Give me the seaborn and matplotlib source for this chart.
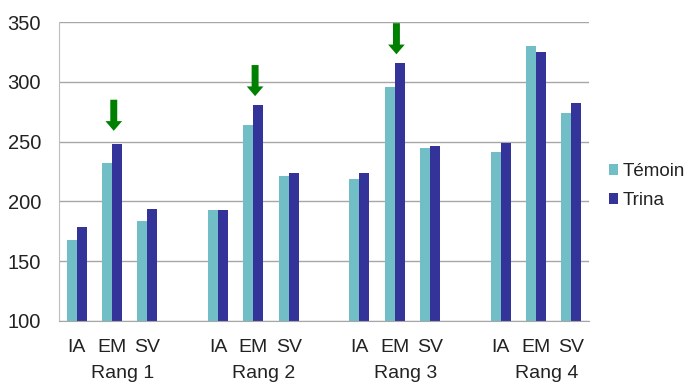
import matplotlib
matplotlib.use("Agg")
import matplotlib.pyplot as plt
import seaborn as sns
import pandas as pd
import numpy as np

# ---- data ----
ranks = ["Rang 1", "Rang 2", "Rang 3", "Rang 4"]
stades = ["IA", "EM", "SV"]
series = ["Témoin", "Trina"]
temoin = [168, 232, 184, 193, 264, 221, 219, 296, 245, 241, 330, 274]
trina = [179, 248, 194, 193, 281, 224, 224, 316, 246, 249, 325, 282]
# green arrows above EM bars (rank index, top value, tip value)
arrow_ranks = [0, 1, 2]
arrow_top = [285, 314, 349]
arrow_tip = [259, 288, 323]
yticks = [100, 150, 200, 250, 300, 350]

colors = {"Témoin": "#72BEC6", "Trina": "#333399"}

# slot positions: 3 stades + 1 blank slot per rank
slot_per_rank = len(stades) + 1
rows = []
for ri, r in enumerate(ranks):
    for si, s in enumerate(stades):
        k = ri * len(stades) + si
        pos = ri * slot_per_rank + si
        rows.append({"pos": pos, "serie": "Témoin", "val": temoin[k]})
        rows.append({"pos": pos, "serie": "Trina", "val": trina[k]})
df = pd.DataFrame(rows)

sns.set_style("white")
plt.rcParams["font.family"] = ["Liberation Sans", "DejaVu Sans"]

fig = plt.figure(figsize=(6.92, 3.83), dpi=100)
ax = fig.add_axes([59 / 692, 1 - 321 / 383, 530 / 692, 299 / 383])

sns.barplot(data=df, x="pos", y="val", hue="serie", hue_order=series,
            palette=colors, native_scale=True, width=0.57, ax=ax,
            saturation=1, edgecolor="none", linewidth=0, legend=True)

nslots = len(ranks) * slot_per_rank - 1
ax.set_xlim(-0.5, nslots - 0.5)
ax.set_ylim(yticks[0], yticks[-1])
ax.set_yticks(yticks)
ax.set_yticklabels([str(t) for t in yticks], fontsize=14.5, color="#222222")
ax.yaxis.grid(True, color="#a6a6a6", linewidth=1)
ax.set_axisbelow(True)
ax.tick_params(axis="y", length=5, width=1, color="#a6a6a6", pad=8)

# x ticks at slot boundaries, labels as text
ax.set_xticks(np.arange(-0.5, nslots, 1.0))
ax.set_xticklabels([])
ax.tick_params(axis="x", length=5, width=1, color="#a6a6a6", direction="out")
ax.set_xlabel("")
ax.set_ylabel("")

trans = matplotlib.transforms.blended_transform_factory(ax.transData, fig.transFigure)
for ri, r in enumerate(ranks):
    for si, s in enumerate(stades):
        ax.text(ri * slot_per_rank + si, 1 - 347 / 383, s, transform=trans,
                ha="center", va="center", fontsize=14, color="#222222")
    ax.text(ri * slot_per_rank + 1.3, 1 - 373 / 383, r, transform=trans,
            ha="center", va="center", fontsize=14, color="#222222")

for spine in ["top", "right"]:
    ax.spines[spine].set_visible(False)
ax.spines["left"].set_color("#bfbfbf")
ax.spines["bottom"].set_color("#a6a6a6")

for ri, top, tip in zip(arrow_ranks, arrow_top, arrow_tip):
    x = ri * slot_per_rank + 1 + 0.05
    ax.annotate("", xy=(x, tip), xytext=(x, top),
                arrowprops=dict(facecolor="#008000", edgecolor="none",
                                width=5, headwidth=12, headlength=7, shrink=0),
                annotation_clip=False)

leg = ax.legend(loc="center left", bbox_to_anchor=(609 / 692, 1 - 186 / 383),
                bbox_transform=fig.transFigure, frameon=False, fontsize=13.5,
                handlelength=0.5, handleheight=0.5, handletextpad=0.25,
                labelspacing=0.65, borderpad=0, borderaxespad=0)
for t in leg.get_texts():
    t.set_color("#222222")

fig.savefig("out.png", dpi=100)
